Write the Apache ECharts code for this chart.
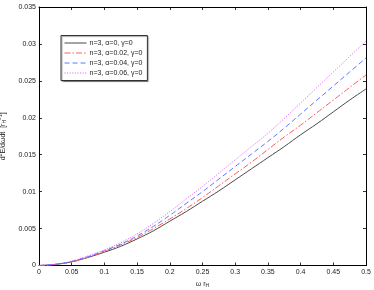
<!DOCTYPE html>
<html><head><meta charset="utf-8">
<script src="https://cdn.jsdelivr.net/npm/echarts@6/dist/echarts.min.js"></script>
<style>html,body{margin:0;padding:0;background:#fff}#c{width:374px;height:290px}</style>
</head><body><div id="c"></div>
<script>
const xs = [0, 0.025, 0.05, 0.075, 0.1, 0.125, 0.15, 0.175, 0.2, 0.225, 0.25, 0.275, 0.3, 0.325, 0.35, 0.375, 0.4, 0.425, 0.45, 0.475, 0.5];
const a0 = [0, 0.00015, 0.0005, 0.0011, 0.0018, 0.0026, 0.0036, 0.0047, 0.0060, 0.0073, 0.0087, 0.0101, 0.0116, 0.0131, 0.0146, 0.0161, 0.0177, 0.0192, 0.0208, 0.0224, 0.0239];
const a002 = [0, 0.00015, 0.0005, 0.0011, 0.0019, 0.0028, 0.0038, 0.0050, 0.0063, 0.0077, 0.0092, 0.0108, 0.0124, 0.0140, 0.0157, 0.0174, 0.0190, 0.0207, 0.0224, 0.0241, 0.0258];
const a004 = [0, 0.00016, 0.00055, 0.0012, 0.0020, 0.0029, 0.0040, 0.0053, 0.0068, 0.0084, 0.0100, 0.0117, 0.0134, 0.0151, 0.0168, 0.0186, 0.0205, 0.0224, 0.0243, 0.0262, 0.0281];
const a006 = [0, 0.00017, 0.0006, 0.0013, 0.0021, 0.0031, 0.0043, 0.0057, 0.0073, 0.0090, 0.0107, 0.0125, 0.0143, 0.0161, 0.0179, 0.0199, 0.0220, 0.0241, 0.0262, 0.0283, 0.0304];
const names = ['n=3, \u03b1=0, \u03b3=0', 'n=3, \u03b1=0.02, \u03b3=0', 'n=3, \u03b1=0.04, \u03b3=0', 'n=3, \u03b1=0.06, \u03b3=0'];
const colors = ['#4a4a4a', '#ff5a5a', '#5a78ff', '#e050ff'];
const dashes = ['solid', [6, 2, 1.5, 2], [5, 3], [1, 1.6]];

const chart = echarts.init(document.getElementById('c'), null, {renderer: 'canvas'});
const fmt = v => String(parseFloat(v.toFixed(4)));
const axisCommon = {
  axisLine: {show: true, onZero: false, lineStyle: {color: '#000', width: 1}},
  axisTick: {show: true, inside: true, length: 3, lineStyle: {color: '#000', width: 0.8}},
  splitLine: {show: false}
};
const pair = (d) => d.map((v, i) => [xs[i], v]);
const mk = (i, data) => ({
  name: names[i], type: 'line', data: pair(data), smooth: 0.4, showSymbol: false, symbol: 'none',
  lineStyle: {color: colors[i], width: 1, type: dashes[i]}, itemStyle: {color: colors[i]}, animation: false
});
chart.setOption({
  animation: false,
  textStyle: {fontFamily: 'Liberation Sans, Arial, sans-serif'},
  grid: {left: 39, right: 8, top: 7, bottom: 24.5, containLabel: false, outerBoundsMode: 'none'},
  xAxis: [
    Object.assign({type: 'value', min: 0, max: 0.5, interval: 0.05, position: 'bottom',
      name: '{a|\u03c9 r}{sub|H}', nameLocation: 'middle', nameGap: 14,
      nameTextStyle: {rich: {a: {fontSize: 7, color: '#222'}, sub: {fontSize: 5, color: '#222', verticalAlign: 'bottom', padding: [4, 0, 0, 0]}}},
      axisLabel: {fontSize: 7, color: '#222', margin: 3, formatter: fmt}}, axisCommon),
    Object.assign({type: 'value', min: 0, max: 0.5, interval: 0.05, position: 'top',
      axisLabel: {show: false}}, axisCommon)
  ],
  yAxis: [
    Object.assign({type: 'value', min: 0, max: 0.035, interval: 0.005, position: 'left',
      name: '{a|d}{sup|2}{a|E/d\u03c9dt  [r}{sub|H}{sup|\u22121}{a|]}', nameLocation: 'middle', nameGap: 25, nameRotate: 90,
      nameTextStyle: {rich: {
        a: {fontSize: 7, color: '#222'},
        sup: {fontSize: 5, color: '#222', verticalAlign: 'top', padding: [0, 0, 4, 0]},
        sub: {fontSize: 5, color: '#222', verticalAlign: 'bottom', padding: [4, 0, 0, 0]}}},
      axisLabel: {fontSize: 7, color: '#222', margin: 3, formatter: fmt}}, axisCommon),
    Object.assign({type: 'value', min: 0, max: 0.035, interval: 0.005, position: 'right',
      axisLabel: {show: false}}, axisCommon)
  ],
  legend: {
    orient: 'vertical', left: 61, top: 35.5,
    backgroundColor: '#fff', borderColor: '#333', borderWidth: 1,
    shadowColor: 'rgba(0,0,0,0.35)', shadowOffsetX: 1, shadowOffsetY: 1, shadowBlur: 1,
    padding: [4, 5, 4, 3], itemGap: 3, itemWidth: 22, itemHeight: 6,
    textStyle: {fontSize: 7, color: '#222', padding: [0, 0, 0, -2]},
    data: names.map((n, i) => ({
      name: n,
      itemStyle: {opacity: 0},
      lineStyle: {color: colors[i], width: 1, type: dashes[i], opacity: 1}
    }))
  },
  series: [mk(0, a0), mk(1, a002), mk(2, a004), mk(3, a006)]
});
</script></body></html>
